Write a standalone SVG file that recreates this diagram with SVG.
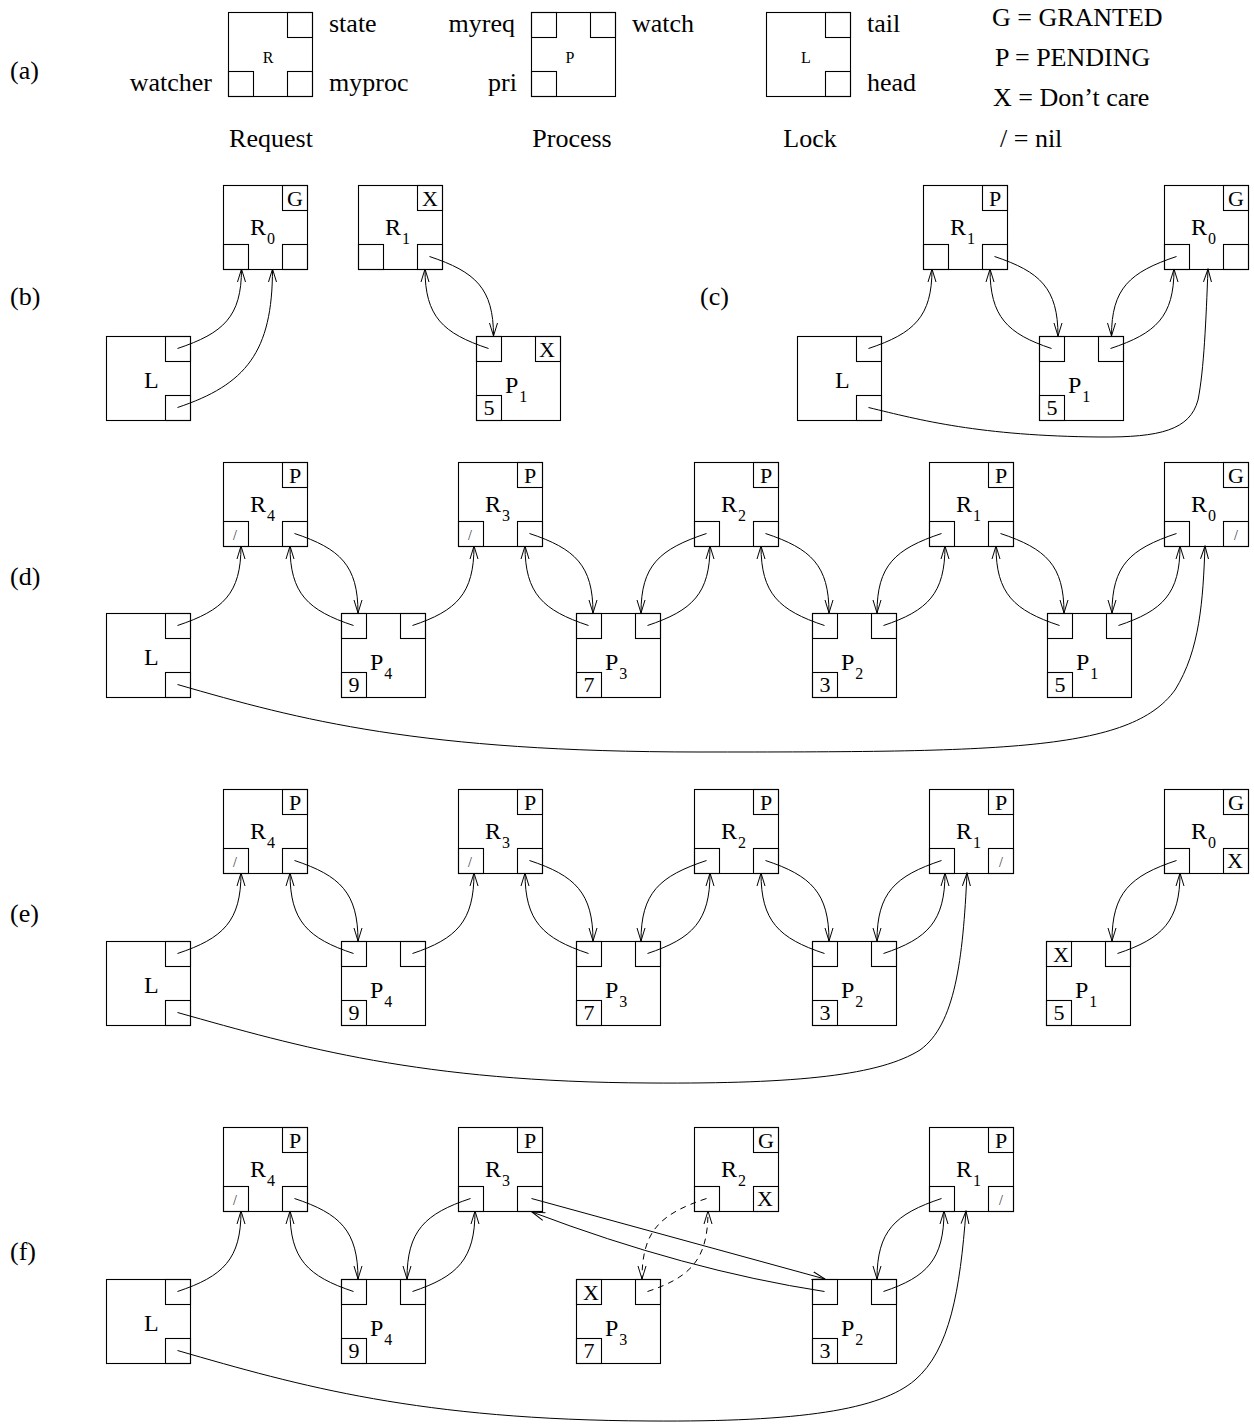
<svg xmlns="http://www.w3.org/2000/svg" width="1254" height="1425" viewBox="0 0 1254 1425">
<style>
.box{fill:#fff;stroke:#000;stroke-width:1.1}
.sq{fill:none;stroke:#000;stroke-width:1.1}
text{font-family:"Liberation Serif","Times New Roman",serif;fill:#000}
.lg{font-size:26px}
.lbl{font-size:24px}
.sub{font-size:16px}
.st{font-size:22px;text-anchor:middle}
.nil{font-size:14px;text-anchor:middle;fill:#333}
.sm{font-size:16px;text-anchor:middle}
.mid{text-anchor:middle}
.end{text-anchor:end}
.c{fill:none;stroke:#000;stroke-width:1;marker-end:url(#ah)}
.d{stroke-dasharray:6 5}
</style>
<defs>
<marker id="ah" viewBox="0 0 14 10" refX="13" refY="5" markerWidth="14" markerHeight="10" markerUnits="userSpaceOnUse" orient="auto"><path d="M0,1 L13,5 L0,9" fill="none" stroke="#000" stroke-width="1"/></marker>
</defs>
<rect width="1254" height="1425" fill="#fff"/>

<g id="row-labels" class="lg">
<text x="10" y="79">(a)</text>
<text x="10" y="305">(b)</text>
<text x="700" y="305">(c)</text>
<text x="10" y="585">(d)</text>
<text x="10" y="922">(e)</text>
<text x="10" y="1260">(f)</text>
</g>

<!-- (a) legend -->
<g id="a-R" transform="translate(228,12)">
<rect class="box" x="0.5" y="0.5" width="84" height="84"/>
<rect class="sq" x="59.5" y="0.5" width="25" height="25"/>
<rect class="sq" x="0.5" y="59.5" width="25" height="25"/>
<rect class="sq" x="59.5" y="59.5" width="25" height="25"/>
<text class="sm" x="40" y="51">R</text>
</g>
<g id="a-P" transform="translate(531,12)">
<rect class="box" x="0.5" y="0.5" width="84" height="84"/>
<rect class="sq" x="0.5" y="0.5" width="25" height="25"/>
<rect class="sq" x="59.5" y="0.5" width="25" height="25"/>
<rect class="sq" x="0.5" y="59.5" width="25" height="25"/>
<text class="sm" x="39" y="51">P</text>
</g>
<g id="a-L" transform="translate(766,12)">
<rect class="box" x="0.5" y="0.5" width="84" height="84"/>
<rect class="sq" x="59.5" y="0.5" width="25" height="25"/>
<rect class="sq" x="59.5" y="59.5" width="25" height="25"/>
<text class="sm" x="40" y="51">L</text>
</g>
<g id="legend-text" class="lg">
<text x="329" y="32">state</text>
<text class="end" x="212" y="91">watcher</text>
<text x="329" y="91">myproc</text>
<text class="end" x="515" y="32">myreq</text>
<text class="end" x="517" y="91">pri</text>
<text x="632" y="32">watch</text>
<text x="867" y="32">tail</text>
<text x="867" y="91">head</text>
<text class="mid" x="271" y="147">Request</text>
<text class="mid" x="572" y="147">Process</text>
<text class="mid" x="810" y="147">Lock</text>
<text x="992" y="26">G = GRANTED</text>
<text x="995" y="66">P = PENDING</text>
<text x="993" y="106">X = Don’t care</text>
<text x="1000" y="147">/ = nil</text>
</g>

<!-- (b) -->
<g id="b-L" transform="translate(106,336)">
<rect class="box" x="0.5" y="0.5" width="84" height="84"/>
<rect class="sq" x="59.5" y="0.5" width="25" height="25"/>
<rect class="sq" x="59.5" y="59.5" width="25" height="25"/>
<text class="lbl" x="38" y="52">L</text>
</g>
<g id="b-R0" transform="translate(223,185)">
<rect class="box" x="0.5" y="0.5" width="84" height="84"/>
<rect class="sq" x="59.5" y="0.5" width="25" height="25"/>
<rect class="sq" x="0.5" y="59.5" width="25" height="25"/>
<rect class="sq" x="59.5" y="59.5" width="25" height="25"/>
<text class="lbl" x="27" y="50">R<tspan class="sub" dx="1" dy="9">0</tspan></text>
<text class="st" x="72" y="21">G</text>
</g>
<g id="b-R1" transform="translate(358,185)">
<rect class="box" x="0.5" y="0.5" width="84" height="84"/>
<rect class="sq" x="59.5" y="0.5" width="25" height="25"/>
<rect class="sq" x="0.5" y="59.5" width="25" height="25"/>
<rect class="sq" x="59.5" y="59.5" width="25" height="25"/>
<text class="lbl" x="27" y="50">R<tspan class="sub" dx="1" dy="9">1</tspan></text>
<text class="st" x="72" y="21">X</text>
</g>
<g id="b-P1" transform="translate(476,336)">
<rect class="box" x="0.5" y="0.5" width="84" height="84"/>
<rect class="sq" x="0.5" y="0.5" width="25" height="25"/>
<rect class="sq" x="59.5" y="0.5" width="25" height="25"/>
<rect class="sq" x="0.5" y="59.5" width="25" height="25"/>
<text class="lbl" x="29" y="57">P<tspan class="sub" dx="1" dy="9">1</tspan></text>
<text class="st" x="71" y="21">X</text>
<text class="st" x="13" y="79">5</text>
</g>

<!-- (c) -->
<g id="c-L" transform="translate(797,336)">
<rect class="box" x="0.5" y="0.5" width="84" height="84"/>
<rect class="sq" x="59.5" y="0.5" width="25" height="25"/>
<rect class="sq" x="59.5" y="59.5" width="25" height="25"/>
<text class="lbl" x="38" y="52">L</text>
</g>
<g id="c-R1" transform="translate(923,185)">
<rect class="box" x="0.5" y="0.5" width="84" height="84"/>
<rect class="sq" x="59.5" y="0.5" width="25" height="25"/>
<rect class="sq" x="0.5" y="59.5" width="25" height="25"/>
<rect class="sq" x="59.5" y="59.5" width="25" height="25"/>
<text class="lbl" x="27" y="50">R<tspan class="sub" dx="1" dy="9">1</tspan></text>
<text class="st" x="72" y="21">P</text>
</g>
<g id="c-P1" transform="translate(1039,336)">
<rect class="box" x="0.5" y="0.5" width="84" height="84"/>
<rect class="sq" x="0.5" y="0.5" width="25" height="25"/>
<rect class="sq" x="59.5" y="0.5" width="25" height="25"/>
<rect class="sq" x="0.5" y="59.5" width="25" height="25"/>
<text class="lbl" x="29" y="57">P<tspan class="sub" dx="1" dy="9">1</tspan></text>
<text class="st" x="13" y="79">5</text>
</g>
<g id="c-R0" transform="translate(1164,185)">
<rect class="box" x="0.5" y="0.5" width="84" height="84"/>
<rect class="sq" x="59.5" y="0.5" width="25" height="25"/>
<rect class="sq" x="0.5" y="59.5" width="25" height="25"/>
<rect class="sq" x="59.5" y="59.5" width="25" height="25"/>
<text class="lbl" x="27" y="50">R<tspan class="sub" dx="1" dy="9">0</tspan></text>
<text class="st" x="72" y="21">G</text>
</g>

<!-- (d) -->
<g id="d-L" transform="translate(106,613)">
<rect class="box" x="0.5" y="0.5" width="84" height="84"/>
<rect class="sq" x="59.5" y="0.5" width="25" height="25"/>
<rect class="sq" x="59.5" y="59.5" width="25" height="25"/>
<text class="lbl" x="38" y="52">L</text>
</g>
<g id="d-R4" transform="translate(223,462)">
<rect class="box" x="0.5" y="0.5" width="84" height="84"/>
<rect class="sq" x="59.5" y="0.5" width="25" height="25"/>
<rect class="sq" x="0.5" y="59.5" width="25" height="25"/>
<rect class="sq" x="59.5" y="59.5" width="25" height="25"/>
<text class="lbl" x="27" y="50">R<tspan class="sub" dx="1" dy="9">4</tspan></text>
<text class="st" x="72" y="21">P</text>
<text class="nil" x="12" y="78">/</text>
</g>
<g id="d-R3" transform="translate(458,462)">
<rect class="box" x="0.5" y="0.5" width="84" height="84"/>
<rect class="sq" x="59.5" y="0.5" width="25" height="25"/>
<rect class="sq" x="0.5" y="59.5" width="25" height="25"/>
<rect class="sq" x="59.5" y="59.5" width="25" height="25"/>
<text class="lbl" x="27" y="50">R<tspan class="sub" dx="1" dy="9">3</tspan></text>
<text class="st" x="72" y="21">P</text>
<text class="nil" x="12" y="78">/</text>
</g>
<g id="d-R2" transform="translate(694,462)">
<rect class="box" x="0.5" y="0.5" width="84" height="84"/>
<rect class="sq" x="59.5" y="0.5" width="25" height="25"/>
<rect class="sq" x="0.5" y="59.5" width="25" height="25"/>
<rect class="sq" x="59.5" y="59.5" width="25" height="25"/>
<text class="lbl" x="27" y="50">R<tspan class="sub" dx="1" dy="9">2</tspan></text>
<text class="st" x="72" y="21">P</text>
</g>
<g id="d-R1" transform="translate(929,462)">
<rect class="box" x="0.5" y="0.5" width="84" height="84"/>
<rect class="sq" x="59.5" y="0.5" width="25" height="25"/>
<rect class="sq" x="0.5" y="59.5" width="25" height="25"/>
<rect class="sq" x="59.5" y="59.5" width="25" height="25"/>
<text class="lbl" x="27" y="50">R<tspan class="sub" dx="1" dy="9">1</tspan></text>
<text class="st" x="72" y="21">P</text>
</g>
<g id="d-R0" transform="translate(1164,462)">
<rect class="box" x="0.5" y="0.5" width="84" height="84"/>
<rect class="sq" x="59.5" y="0.5" width="25" height="25"/>
<rect class="sq" x="0.5" y="59.5" width="25" height="25"/>
<rect class="sq" x="59.5" y="59.5" width="25" height="25"/>
<text class="lbl" x="27" y="50">R<tspan class="sub" dx="1" dy="9">0</tspan></text>
<text class="st" x="72" y="21">G</text>
<text class="nil" x="72" y="78">/</text>
</g>
<g id="d-P4" transform="translate(341,613)">
<rect class="box" x="0.5" y="0.5" width="84" height="84"/>
<rect class="sq" x="0.5" y="0.5" width="25" height="25"/>
<rect class="sq" x="59.5" y="0.5" width="25" height="25"/>
<rect class="sq" x="0.5" y="59.5" width="25" height="25"/>
<text class="lbl" x="29" y="57">P<tspan class="sub" dx="1" dy="9">4</tspan></text>
<text class="st" x="13" y="79">9</text>
</g>
<g id="d-P3" transform="translate(576,613)">
<rect class="box" x="0.5" y="0.5" width="84" height="84"/>
<rect class="sq" x="0.5" y="0.5" width="25" height="25"/>
<rect class="sq" x="59.5" y="0.5" width="25" height="25"/>
<rect class="sq" x="0.5" y="59.5" width="25" height="25"/>
<text class="lbl" x="29" y="57">P<tspan class="sub" dx="1" dy="9">3</tspan></text>
<text class="st" x="13" y="79">7</text>
</g>
<g id="d-P2" transform="translate(812,613)">
<rect class="box" x="0.5" y="0.5" width="84" height="84"/>
<rect class="sq" x="0.5" y="0.5" width="25" height="25"/>
<rect class="sq" x="59.5" y="0.5" width="25" height="25"/>
<rect class="sq" x="0.5" y="59.5" width="25" height="25"/>
<text class="lbl" x="29" y="57">P<tspan class="sub" dx="1" dy="9">2</tspan></text>
<text class="st" x="13" y="79">3</text>
</g>
<g id="d-P1" transform="translate(1047,613)">
<rect class="box" x="0.5" y="0.5" width="84" height="84"/>
<rect class="sq" x="0.5" y="0.5" width="25" height="25"/>
<rect class="sq" x="59.5" y="0.5" width="25" height="25"/>
<rect class="sq" x="0.5" y="59.5" width="25" height="25"/>
<text class="lbl" x="29" y="57">P<tspan class="sub" dx="1" dy="9">1</tspan></text>
<text class="st" x="13" y="79">5</text>
</g>

<!-- (e) -->
<g id="e-L" transform="translate(106,941)">
<rect class="box" x="0.5" y="0.5" width="84" height="84"/>
<rect class="sq" x="59.5" y="0.5" width="25" height="25"/>
<rect class="sq" x="59.5" y="59.5" width="25" height="25"/>
<text class="lbl" x="38" y="52">L</text>
</g>
<g id="e-R4" transform="translate(223,789)">
<rect class="box" x="0.5" y="0.5" width="84" height="84"/>
<rect class="sq" x="59.5" y="0.5" width="25" height="25"/>
<rect class="sq" x="0.5" y="59.5" width="25" height="25"/>
<rect class="sq" x="59.5" y="59.5" width="25" height="25"/>
<text class="lbl" x="27" y="50">R<tspan class="sub" dx="1" dy="9">4</tspan></text>
<text class="st" x="72" y="21">P</text>
<text class="nil" x="12" y="78">/</text>
</g>
<g id="e-R3" transform="translate(458,789)">
<rect class="box" x="0.5" y="0.5" width="84" height="84"/>
<rect class="sq" x="59.5" y="0.5" width="25" height="25"/>
<rect class="sq" x="0.5" y="59.5" width="25" height="25"/>
<rect class="sq" x="59.5" y="59.5" width="25" height="25"/>
<text class="lbl" x="27" y="50">R<tspan class="sub" dx="1" dy="9">3</tspan></text>
<text class="st" x="72" y="21">P</text>
<text class="nil" x="12" y="78">/</text>
</g>
<g id="e-R2" transform="translate(694,789)">
<rect class="box" x="0.5" y="0.5" width="84" height="84"/>
<rect class="sq" x="59.5" y="0.5" width="25" height="25"/>
<rect class="sq" x="0.5" y="59.5" width="25" height="25"/>
<rect class="sq" x="59.5" y="59.5" width="25" height="25"/>
<text class="lbl" x="27" y="50">R<tspan class="sub" dx="1" dy="9">2</tspan></text>
<text class="st" x="72" y="21">P</text>
</g>
<g id="e-R1" transform="translate(929,789)">
<rect class="box" x="0.5" y="0.5" width="84" height="84"/>
<rect class="sq" x="59.5" y="0.5" width="25" height="25"/>
<rect class="sq" x="0.5" y="59.5" width="25" height="25"/>
<rect class="sq" x="59.5" y="59.5" width="25" height="25"/>
<text class="lbl" x="27" y="50">R<tspan class="sub" dx="1" dy="9">1</tspan></text>
<text class="st" x="72" y="21">P</text>
<text class="nil" x="72" y="78">/</text>
</g>
<g id="e-R0" transform="translate(1164,789)">
<rect class="box" x="0.5" y="0.5" width="84" height="84"/>
<rect class="sq" x="59.5" y="0.5" width="25" height="25"/>
<rect class="sq" x="0.5" y="59.5" width="25" height="25"/>
<rect class="sq" x="59.5" y="59.5" width="25" height="25"/>
<text class="lbl" x="27" y="50">R<tspan class="sub" dx="1" dy="9">0</tspan></text>
<text class="st" x="72" y="21">G</text>
<text class="st" x="71" y="79">X</text>
</g>
<g id="e-P4" transform="translate(341,941)">
<rect class="box" x="0.5" y="0.5" width="84" height="84"/>
<rect class="sq" x="0.5" y="0.5" width="25" height="25"/>
<rect class="sq" x="59.5" y="0.5" width="25" height="25"/>
<rect class="sq" x="0.5" y="59.5" width="25" height="25"/>
<text class="lbl" x="29" y="57">P<tspan class="sub" dx="1" dy="9">4</tspan></text>
<text class="st" x="13" y="79">9</text>
</g>
<g id="e-P3" transform="translate(576,941)">
<rect class="box" x="0.5" y="0.5" width="84" height="84"/>
<rect class="sq" x="0.5" y="0.5" width="25" height="25"/>
<rect class="sq" x="59.5" y="0.5" width="25" height="25"/>
<rect class="sq" x="0.5" y="59.5" width="25" height="25"/>
<text class="lbl" x="29" y="57">P<tspan class="sub" dx="1" dy="9">3</tspan></text>
<text class="st" x="13" y="79">7</text>
</g>
<g id="e-P2" transform="translate(812,941)">
<rect class="box" x="0.5" y="0.5" width="84" height="84"/>
<rect class="sq" x="0.5" y="0.5" width="25" height="25"/>
<rect class="sq" x="59.5" y="0.5" width="25" height="25"/>
<rect class="sq" x="0.5" y="59.5" width="25" height="25"/>
<text class="lbl" x="29" y="57">P<tspan class="sub" dx="1" dy="9">2</tspan></text>
<text class="st" x="13" y="79">3</text>
</g>
<g id="e-P1" transform="translate(1046,941)">
<rect class="box" x="0.5" y="0.5" width="84" height="84"/>
<rect class="sq" x="0.5" y="0.5" width="25" height="25"/>
<rect class="sq" x="59.5" y="0.5" width="25" height="25"/>
<rect class="sq" x="0.5" y="59.5" width="25" height="25"/>
<text class="lbl" x="29" y="57">P<tspan class="sub" dx="1" dy="9">1</tspan></text>
<text class="st" x="15" y="21">X</text>
<text class="st" x="13" y="79">5</text>
</g>

<!-- (f) -->
<g id="f-L" transform="translate(106,1279)">
<rect class="box" x="0.5" y="0.5" width="84" height="84"/>
<rect class="sq" x="59.5" y="0.5" width="25" height="25"/>
<rect class="sq" x="59.5" y="59.5" width="25" height="25"/>
<text class="lbl" x="38" y="52">L</text>
</g>
<g id="f-R4" transform="translate(223,1127)">
<rect class="box" x="0.5" y="0.5" width="84" height="84"/>
<rect class="sq" x="59.5" y="0.5" width="25" height="25"/>
<rect class="sq" x="0.5" y="59.5" width="25" height="25"/>
<rect class="sq" x="59.5" y="59.5" width="25" height="25"/>
<text class="lbl" x="27" y="50">R<tspan class="sub" dx="1" dy="9">4</tspan></text>
<text class="st" x="72" y="21">P</text>
<text class="nil" x="12" y="78">/</text>
</g>
<g id="f-R3" transform="translate(458,1127)">
<rect class="box" x="0.5" y="0.5" width="84" height="84"/>
<rect class="sq" x="59.5" y="0.5" width="25" height="25"/>
<rect class="sq" x="0.5" y="59.5" width="25" height="25"/>
<rect class="sq" x="59.5" y="59.5" width="25" height="25"/>
<text class="lbl" x="27" y="50">R<tspan class="sub" dx="1" dy="9">3</tspan></text>
<text class="st" x="72" y="21">P</text>
</g>
<g id="f-R2" transform="translate(694,1127)">
<rect class="box" x="0.5" y="0.5" width="84" height="84"/>
<rect class="sq" x="59.5" y="0.5" width="25" height="25"/>
<rect class="sq" x="0.5" y="59.5" width="25" height="25"/>
<rect class="sq" x="59.5" y="59.5" width="25" height="25"/>
<text class="lbl" x="27" y="50">R<tspan class="sub" dx="1" dy="9">2</tspan></text>
<text class="st" x="72" y="21">G</text>
<text class="st" x="71" y="79">X</text>
</g>
<g id="f-R1" transform="translate(929,1127)">
<rect class="box" x="0.5" y="0.5" width="84" height="84"/>
<rect class="sq" x="59.5" y="0.5" width="25" height="25"/>
<rect class="sq" x="0.5" y="59.5" width="25" height="25"/>
<rect class="sq" x="59.5" y="59.5" width="25" height="25"/>
<text class="lbl" x="27" y="50">R<tspan class="sub" dx="1" dy="9">1</tspan></text>
<text class="st" x="72" y="21">P</text>
<text class="nil" x="72" y="78">/</text>
</g>
<g id="f-P4" transform="translate(341,1279)">
<rect class="box" x="0.5" y="0.5" width="84" height="84"/>
<rect class="sq" x="0.5" y="0.5" width="25" height="25"/>
<rect class="sq" x="59.5" y="0.5" width="25" height="25"/>
<rect class="sq" x="0.5" y="59.5" width="25" height="25"/>
<text class="lbl" x="29" y="57">P<tspan class="sub" dx="1" dy="9">4</tspan></text>
<text class="st" x="13" y="79">9</text>
</g>
<g id="f-P3" transform="translate(576,1279)">
<rect class="box" x="0.5" y="0.5" width="84" height="84"/>
<rect class="sq" x="0.5" y="0.5" width="25" height="25"/>
<rect class="sq" x="59.5" y="0.5" width="25" height="25"/>
<rect class="sq" x="0.5" y="59.5" width="25" height="25"/>
<text class="lbl" x="29" y="57">P<tspan class="sub" dx="1" dy="9">3</tspan></text>
<text class="st" x="15" y="21">X</text>
<text class="st" x="13" y="79">7</text>
</g>
<g id="f-P2" transform="translate(812,1279)">
<rect class="box" x="0.5" y="0.5" width="84" height="84"/>
<rect class="sq" x="0.5" y="0.5" width="25" height="25"/>
<rect class="sq" x="59.5" y="0.5" width="25" height="25"/>
<rect class="sq" x="0.5" y="59.5" width="25" height="25"/>
<text class="lbl" x="29" y="57">P<tspan class="sub" dx="1" dy="9">2</tspan></text>
<text class="st" x="13" y="79">3</text>
</g>

<g id="connectors">
<!-- (b) -->
<path class="c" d="M177.5,348.5 C223.6,333.1 241.5,316.7 241.5,269"/>
<path class="c" d="M177.5,407.5 C245.9,384.7 272.5,352.1 272.5,269"/>
<path class="c" d="M429.5,256.5 C475.6,271.9 493.5,288.3 493.5,336"/>
<path class="c" d="M488.5,348.5 C442.8,333.3 425,316.7 425,269"/>
<!-- (c) -->
<path class="c" d="M868.5,348.5 C914.2,333.3 932,316.7 932,269"/>
<path class="c" d="M994.5,256.5 C1040.2,271.7 1058,288.3 1058,336"/>
<path class="c" d="M1051.5,348.5 C1007.2,333.7 990,316.7 990,269"/>
<path class="c" d="M1110.5,348.5 C1156.2,333.3 1174,316.7 1174,269"/>
<path class="c" d="M1176.5,256.5 C1129.7,272.1 1111.5,288.3 1111.5,336"/>
<path class="c" d="M868.5,407.5 C920,420 980,436 1100,437 C1160,437.5 1190,430 1198,400 C1204,370 1206,320 1208,269"/>
<!-- (d) -->
<path class="c" d="M177.5,625.5 C223.2,610.3 241,593.7 241,546"/>
<path class="c" d="M294.5,533.5 C340.2,548.7 358,565.3 358,613"/>
<path class="c" d="M353.5,625.5 C307.8,610.3 290,593.7 290,546"/>
<path class="c" d="M412.5,625.5 C456.8,610.7 474,593.7 474,546"/>
<path class="c" d="M529.5,533.5 C575.2,548.7 593,565.3 593,613"/>
<path class="c" d="M588.5,625.5 C542.8,610.3 525,593.7 525,546"/>
<path class="c" d="M706.5,533.5 C659.3,549.2 641,565.3 641,613"/>
<path class="c" d="M647.5,625.5 C692.5,610.5 710,593.7 710,546"/>
<path class="c" d="M765.5,533.5 C811.2,548.7 829,565.3 829,613"/>
<path class="c" d="M824.5,625.5 C778.8,610.3 761,593.7 761,546"/>
<path class="c" d="M941.5,533.5 C895.1,549 877,565.3 877,613"/>
<path class="c" d="M883.5,625.5 C927.8,610.7 945,593.7 945,546"/>
<path class="c" d="M1000.5,533.5 C1046.2,548.7 1064,565.3 1064,613"/>
<path class="c" d="M1059.5,625.5 C1013.8,610.3 996,593.7 996,546"/>
<path class="c" d="M1176.5,533.5 C1130.1,549 1112,565.3 1112,613"/>
<path class="c" d="M1118.5,625.5 C1162.8,610.7 1180,593.7 1180,546"/>
<path class="c" d="M177.5,684.5 C300,720 420,752 700,752 C1000,752 1130,752 1175,690 C1200,650 1203,600 1205,546"/>
<!-- (e) -->
<path class="c" d="M177.5,953.5 C223.2,938.3 241,921.3 241,873"/>
<path class="c" d="M294.5,860.5 C340.2,875.7 358,892.7 358,941"/>
<path class="c" d="M353.5,953.5 C307.8,938.3 290,921.3 290,873"/>
<path class="c" d="M412.5,953.5 C456.8,938.7 474,921.3 474,873"/>
<path class="c" d="M529.5,860.5 C575.2,875.7 593,892.7 593,941"/>
<path class="c" d="M588.5,953.5 C542.8,938.3 525,921.3 525,873"/>
<path class="c" d="M706.5,860.5 C659.3,876.2 641,892.7 641,941"/>
<path class="c" d="M647.5,953.5 C692.5,938.5 710,921.3 710,873"/>
<path class="c" d="M765.5,860.5 C811.2,875.7 829,892.7 829,941"/>
<path class="c" d="M824.5,953.5 C778.8,938.3 761,921.3 761,873"/>
<path class="c" d="M941.5,860.5 C895.1,876 877,892.7 877,941"/>
<path class="c" d="M883.5,953.5 C927.8,938.7 945,921.3 945,873"/>
<path class="c" d="M1176.5,860.5 C1130.1,876 1112,892.7 1112,941"/>
<path class="c" d="M1117.5,953.5 C1162.5,938.5 1180,921.3 1180,873"/>
<path class="c" d="M177.5,1012.5 C300,1047 420,1082 650,1083 C800,1084 880,1075 920,1050 C955,1025 963,960 967,873"/>
<!-- (f) -->
<path class="c" d="M177.5,1291.5 C223.2,1276.3 241,1259.3 241,1211"/>
<path class="c" d="M294.5,1198.5 C340.2,1213.7 358,1230.7 358,1279"/>
<path class="c" d="M353.5,1291.5 C307.8,1276.3 290,1259.3 290,1211"/>
<path class="c" d="M412.5,1291.5 C457.5,1276.5 475,1259.3 475,1211"/>
<path class="c" d="M470.5,1198.5 C424.8,1213.7 407,1230.7 407,1279"/>
<path class="c" d="M531.5,1198.5 L825,1279"/>
<path class="c" d="M824.5,1291.5 Q685,1270 532,1212"/>
<path class="c d" d="M706.5,1198.5 C660.1,1214 642,1230.7 642,1279"/>
<path class="c d" d="M647.5,1291.5 C691.1,1277 708,1259.3 708,1211"/>
<path class="c" d="M941.5,1198.5 C895.1,1214 877,1230.7 877,1279"/>
<path class="c" d="M883.5,1291.5 C927.1,1277 944,1259.3 944,1211"/>
<path class="c" d="M177.5,1350.5 C300,1386 420,1420 650,1421 C800,1422 880,1410 915,1380 C950,1350 960,1290 966,1211"/>
</g>
</svg>
